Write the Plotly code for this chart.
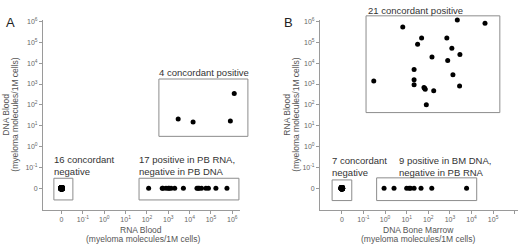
import numpy as np
import plotly.graph_objects as go

# ---------------- data (myeloma molecules / 1M cells; 0 = undetected) ----------------
tick_labels = ["0", "10<sup>-1</sup>", "10<sup>0</sup>", "10<sup>1</sup>", "10<sup>2</sup>",
               "10<sup>3</sup>", "10<sup>4</sup>", "10<sup>5</sup>", "10<sup>6</sup>"]

# Panel A: x = RNA Blood, y = DNA Blood
a_neg_x = [0] * 16
a_neg_y = [0] * 16
a_rna_only_x = [120, 520, 560, 780, 1000, 1100, 1350, 2000, 5100,
                22000, 25000, 28000, 36000, 58000, 76000, 170000, 560000]
a_rna_only_y = [0] * 17
a_pos_x = [2900, 14500, 810000, 1230000]
a_pos_y = [21, 15, 17, 355]

# Panel B: x = DNA Bone Marrow, y = RNA Blood
b_neg_x = [0] * 7
b_neg_y = [0] * 7
b_dna_only_x = [0.9, 2.6, 10, 13, 15, 22, 46, 145, 5900]
b_dna_only_y = [0] * 9
b_pos_x = [2200, 42000, 6.6, 49, 720, 32, 1230, 2900, 148, 790, 22, 1380,
           0.3, 22, 22, 2800, 63, 72, 178, 81, 68]
b_pos_y = [1170000, 810000, 540000, 160000, 160000, 81000, 52000, 26000, 19500,
           13500, 5000, 2750, 1400, 1600, 910, 810, 680, 560, 480, 100, 620]

ZERO_POS = -2  # axis position used for the "0" category


def to_pos(vals):
    v = np.asarray(vals, dtype=float)
    out = np.full(v.shape, float(ZERO_POS))
    nz = v > 0
    out[nz] = np.log10(v[nz])
    return out


# ---------------- layout geometry ----------------
W, H = 520, 247
XA_RANGE = [-2.87, 6.36]
XB_RANGE = [-3.01, 6.15]
Y_RANGE = [-3.04, 6.08]
XA_DOM = [43 / W, 240 / W]
XB_DOM = [320 / W, 518 / W]
Y_DOM = [1 - 209.5 / H, 1 - 17 / H]

fig = go.Figure()

def add_pts(x, y, xa, ya, size):
    fig.add_trace(go.Scatter(x=to_pos(x), y=to_pos(y), mode="markers",
                             marker=dict(color="black", size=size, line=dict(width=0)),
                             xaxis=xa, yaxis=ya, showlegend=False, cliponaxis=False))

add_pts(a_neg_x, a_neg_y, "x", "y", 6.5)
add_pts(a_rna_only_x, a_rna_only_y, "x", "y", 5)
add_pts(a_pos_x, a_pos_y, "x", "y", 5)
add_pts(b_neg_x, b_neg_y, "x2", "y2", 6.5)
add_pts(b_dna_only_x, b_dna_only_y, "x2", "y2", 5)
add_pts(b_pos_x, b_pos_y, "x2", "y2", 5)

axis_common = dict(showgrid=False, zeroline=False, showline=True, linecolor="#9a9a9a",
                   linewidth=1, ticks="outside", ticklen=3, tickcolor="#9a9a9a",
                   tickvals=list(range(-2, 7)), ticktext=tick_labels,
                   tickfont=dict(family="Liberation Sans, Arial", size=7, color="#666"))

fig.update_layout(
    width=W, height=H, margin=dict(l=0, r=0, t=0, b=0),
    paper_bgcolor="white", plot_bgcolor="white",
    xaxis=dict(axis_common, domain=XA_DOM, range=XA_RANGE, anchor="y"),
    yaxis=dict(axis_common, domain=Y_DOM, range=Y_RANGE, anchor="x"),
    xaxis2=dict(axis_common, domain=XB_DOM, range=XB_RANGE, anchor="y2"),
    yaxis2=dict(axis_common, domain=Y_DOM, range=Y_RANGE, anchor="x2"),
)

# boxes (axis units) -> converted to axis-domain fractions so they are not clipped
def box(xr, yr, x0, x1, y0, y1, xref, yref):
    fx = lambda v: (v - xr[0]) / (xr[1] - xr[0])
    fy = lambda v: (v - yr[0]) / (yr[1] - yr[0])
    fig.add_shape(type="rect", xref=xref + " domain", yref=yref + " domain",
                  x0=fx(x0), x1=fx(x1), y0=fy(y0), y1=fy(y1),
                  line=dict(color="#8c8c8c", width=1), fillcolor="rgba(0,0,0,0)",
                  layer="below")

box(XA_RANGE, Y_RANGE, -2.36, -1.47, -2.56, -1.52, "x", "y")
box(XA_RANGE, Y_RANGE, 1.63, 6.31, -2.56, -1.52, "x", "y")
box(XA_RANGE, Y_RANGE, 2.56, 6.73, 0.49, 3.24, "x", "y")
box(XB_RANGE, Y_RANGE, -2.45, -1.54, -2.59, -1.60, "x2", "y2")
box(XB_RANGE, Y_RANGE, -0.39, 4.24, -2.59, -1.50, "x2", "y2")
box(XB_RANGE, Y_RANGE, -0.88, 5.31, 1.63, 6.27, "x2", "y2")

FONT = "Liberation Sans, Arial"

def txt(px, py, text, size, color="#333", xanchor="left", yanchor="top", angle=0):
    fig.add_annotation(x=px / W, y=1 - py / H, xref="paper", yref="paper", text=text,
                       showarrow=False, xanchor=xanchor, yanchor=yanchor, textangle=angle,
                       font=dict(family=FONT, size=size, color=color), align="left",
                       borderpad=0)

# group labels
txt(53, 152, "16 concordant<br>negative", 9.5)
txt(138, 152, "17 positive in PB RNA,<br>negative in PB DNA", 9.5)
txt(158, 64, "4 concordant positive", 9.5)
txt(367, 1, "21 concordant positive", 9.5)
txt(331, 153, "7 concordant<br>negative", 9.5)
txt(398, 153, "9 positive in BM DNA,<br>negative in PB RNA", 9.5)

# panel letters
txt(10, 20, "A", 13, color="#222", xanchor="center", yanchor="middle")
txt(288, 20, "B", 13, color="#222", xanchor="center", yanchor="middle")

# axis titles
txt(141, 230, "RNA Blood", 8.5, color="#555", xanchor="center", yanchor="middle")
txt(143, 238.5, "(myeloma molecules/1M cells)", 8.5, color="#555", xanchor="center", yanchor="middle")
txt(418, 230, "DNA Bone Marrow", 8.5, color="#555", xanchor="center", yanchor="middle")
txt(418, 238.5, "(myeloma molecules/1M cells)", 8.5, color="#555", xanchor="center", yanchor="middle")
txt(6, 113, "DNA Blood", 8.5, color="#555", xanchor="center", yanchor="middle", angle=-90)
txt(15, 113, "(myeloma molecules/1M cells)", 8.5, color="#555", xanchor="center", yanchor="middle", angle=-90)
txt(287, 113, "RNA Blood", 8.5, color="#555", xanchor="center", yanchor="middle", angle=-90)
txt(296, 113, "(myeloma molecules/1M cells)", 8.5, color="#555", xanchor="center", yanchor="middle", angle=-90)

fig.write_html("out.html", config={"displayModeBar": False},
               post_script="document.body.style.margin='0';document.body.style.overflow='hidden';")
